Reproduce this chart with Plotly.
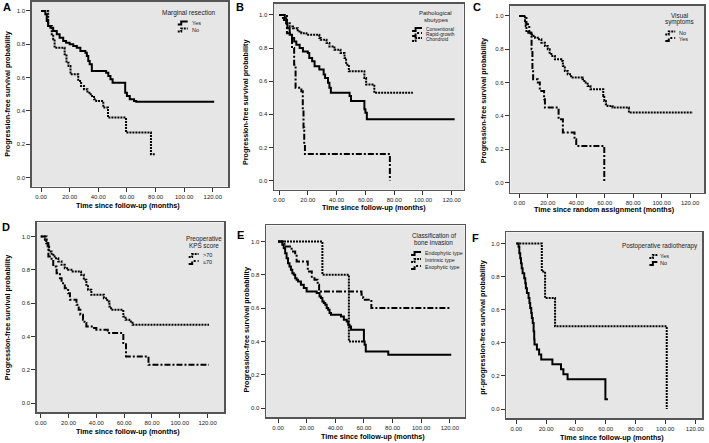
import plotly.graph_objects as go

# ---------------- DATA ----------------
x_ticks = [0, 20, 40, 60, 80, 100, 120]
x_tick_labels = ["0.00", "20.00", "40.00", "60.00", "80.00", "100.00", "120.00"]
y_ticks = [0.0, 0.2, 0.4, 0.6, 0.8, 1.0]
y_tick_labels = ["0.0", "0.2", "0.4", "0.6", "0.8", "1.0"]

# A: Marginal resection
A_yes_t = [0, 3, 4, 5, 6.5, 8.5, 11, 13, 15.5, 17.5, 20, 22.5, 25, 27.5, 31, 32, 33, 34, 35.5, 45.5,
           47, 48.5, 50, 58.8, 60, 62, 65, 66.5, 121]
A_yes_s = [1.0, 0.98, 0.94, 0.91, 0.90, 0.88, 0.86, 0.84, 0.82, 0.81, 0.80, 0.79, 0.78, 0.76, 0.75, 0.73,
           0.70, 0.68, 0.64, 0.63, 0.61, 0.59, 0.57, 0.51, 0.49, 0.47, 0.46, 0.455, 0.455]
A_no_t = [0, 5, 7.5, 8.5, 9.5, 16.5, 17.8, 19.2, 20.6, 26, 28, 30, 32.4, 34.7, 37, 38.6, 43.5, 46.8,
          59.4, 76.8, 79.7]
A_no_s = [1.0, 0.91, 0.86, 0.83, 0.78, 0.74, 0.69, 0.67, 0.62, 0.58, 0.55, 0.53, 0.51, 0.49, 0.47, 0.46,
          0.42, 0.36, 0.27, 0.14, 0.14]

# B: Pathological subtypes
B_conv_t = [0, 4, 5, 5.8, 7.4, 9, 10.5, 12, 14.3, 16.6, 20, 21, 23, 24.7, 28, 31, 32, 34, 35, 36,
            49, 50, 59.3, 60, 61, 122]
B_conv_s = [1.0, 0.98, 0.95, 0.92, 0.88, 0.86, 0.84, 0.82, 0.80, 0.78, 0.77, 0.74, 0.72, 0.69, 0.67,
            0.64, 0.62, 0.59, 0.56, 0.53, 0.51, 0.48, 0.43, 0.41, 0.37, 0.37]
B_rapid_t = [0, 5.5, 9, 10.5, 11.5, 15.5, 16.5, 17, 17.5, 18, 77]
B_rapid_s = [1.0, 0.89, 0.80, 0.70, 0.56, 0.54, 0.43, 0.32, 0.22, 0.16, 0.0]
B_chon_t = [0, 2.8, 5, 7.4, 9.7, 13, 15.5, 19, 28, 29, 33, 35, 38.5, 42.7, 45.5, 46.6, 48.5, 59.3,
            60.5, 66.2, 93]
B_chon_s = [1.0, 0.97, 0.95, 0.93, 0.92, 0.90, 0.89, 0.88, 0.86, 0.85, 0.83, 0.81, 0.79, 0.77, 0.74,
            0.70, 0.66, 0.62, 0.58, 0.53, 0.53]

# C: Visual symptoms
C_no_t = [0, 4, 4.5, 5, 6.3, 8.6, 10, 11, 13, 15.5, 18, 20, 21.3, 22.5, 25, 29.5, 30.6, 32, 34, 36.4,
          44.5, 45.7, 48, 50, 59, 59.7, 60.8, 62, 65.5, 77, 122]
C_no_s = [1.0, 0.97, 0.94, 0.91, 0.90, 0.89, 0.88, 0.87, 0.86, 0.84, 0.82, 0.80, 0.78, 0.76, 0.74, 0.73,
          0.70, 0.67, 0.65, 0.63, 0.62, 0.60, 0.58, 0.56, 0.52, 0.49, 0.47, 0.46, 0.45, 0.42, 0.42]
C_yes_t = [0, 5, 7, 8, 8.6, 9.2, 9.7, 13, 14.4, 17.4, 18, 27.6, 30.6, 38.8, 40, 59.7]
C_yes_s = [1.0, 0.95, 0.90, 0.88, 0.80, 0.68, 0.62, 0.60, 0.55, 0.50, 0.45, 0.38, 0.30, 0.26, 0.22, 0.0]

# D: Preoperative KPS score
D_hi_t = [0, 3, 4, 5, 6, 7.8, 10, 12.6, 15, 17.3, 19.7, 23, 29, 31, 32.8, 34, 36.4, 45.4, 47.8, 49.4,
          50.6, 59.4, 61, 63.7, 66, 121]
D_hi_s = [1.0, 0.98, 0.96, 0.94, 0.91, 0.89, 0.87, 0.85, 0.83, 0.81, 0.80, 0.79, 0.77, 0.74, 0.71,
          0.68, 0.65, 0.63, 0.61, 0.58, 0.56, 0.52, 0.50, 0.49, 0.47, 0.47]
D_lo_t = [0, 4.3, 5.5, 7.8, 9, 11.4, 13.8, 15, 17.3, 19.7, 21, 25.7, 27.3, 28.5, 30.4, 31.5, 32.8,
          37.5, 40, 48.2, 59.4, 61.3, 77.5, 121]
D_lo_s = [1.0, 0.96, 0.88, 0.86, 0.82, 0.78, 0.75, 0.72, 0.69, 0.66, 0.62, 0.59, 0.56, 0.53, 0.50,
          0.48, 0.46, 0.45, 0.44, 0.42, 0.36, 0.28, 0.23, 0.23]

# E: Classification of bone invasion
E_endo_t = [0, 3, 4, 5, 6, 7, 8, 9, 10, 11, 12, 13, 14, 16, 18, 20, 27, 29, 30, 31, 32, 33, 34, 35,
            36, 37, 44, 46, 48, 49, 50, 51, 60, 60.5, 61.3, 77, 121]
E_endo_s = [1.0, 0.98, 0.96, 0.93, 0.90, 0.87, 0.85, 0.83, 0.81, 0.80, 0.78, 0.77, 0.76, 0.74, 0.72,
            0.70, 0.69, 0.67, 0.66, 0.64, 0.63, 0.62, 0.60, 0.59, 0.57, 0.56, 0.55, 0.53, 0.52, 0.50,
            0.49, 0.47, 0.40, 0.38, 0.34, 0.32, 0.32]
E_intr_t = [0, 31, 49.5, 60]
E_intr_s = [1.0, 0.80, 0.40, 0.40]
E_exo_t = [0, 4.5, 9.5, 12, 13, 20.8, 23.6, 25.5, 27.7, 28.7, 58.3, 59.5, 60.6, 65.2, 121]
E_exo_s = [1.0, 0.97, 0.94, 0.92, 0.88, 0.82, 0.78, 0.77, 0.74, 0.70, 0.68, 0.66, 0.65, 0.60, 0.60]

# F: Postoperative radiotherapy
F_no_t = [0, 1.5, 2, 2.6, 3.1, 3.6, 4.2, 5.3, 6, 6.4, 7.1, 8.2, 8.8, 9.3, 10, 10.4, 11, 11.6, 12,
          12.2, 13.8, 15.3, 16.7, 24.2, 30, 31.6, 34.4, 59.8, 61.5]
F_no_s = [1.0, 0.98, 0.94, 0.91, 0.88, 0.85, 0.82, 0.79, 0.76, 0.73, 0.70, 0.67, 0.64, 0.61, 0.58,
          0.55, 0.52, 0.47, 0.42, 0.39, 0.36, 0.33, 0.30, 0.27, 0.24, 0.21, 0.18, 0.06, 0.06]
F_yes_t = [0, 17.1, 19.3, 26, 101]
F_yes_s = [1.0, 0.83, 0.67, 0.50, 0.0]

# ---------------- STYLE / LAYOUT ----------------
W, H = 709, 443
SOLID = "solid"
DOT = "2px,1px"
DASHDOT = "6px,2px,2px,2px"
LINE_W = 2.0
SANS = "Liberation Sans, Arial, sans-serif"
TITLE_SIZE = 7.2


def px(x):
    return x / W


def py(y):
    return 1 - y / H


panels = [
    dict(letter="A", box=(30, 1, 228, 186), xr=(-6.45, 130.9), yr=(-0.054, 1.054), lpos=(5, 6),
         xt="Time since follow-up (months)", xtp=(127, 205),
         yt="Progression-free survival probability", ytp=(6, 93),
         curves=[("Yes", A_yes_t, A_yes_s, SOLID), ("No", A_no_t, A_no_s, DOT)],
         leg=dict(title=["Marginal resection"], cx=188, ty=[12], iy=[22, 29], sw=(177, 187), tx=189,
                  tfs=6.5, ifs=5.5)),
    dict(letter="B", box=(274, 3, 465, 189), xr=(-3.45, 128.3), yr=(-0.054, 1.066), lpos=(240, 6),
         xt="Time since follow-up (months)", xtp=(375, 207),
         yt="Progression-free survival probability", ytp=(246, 102),
         curves=[("Conventional", B_conv_t, B_conv_s, SOLID),
                 ("Rapid-growth", B_rapid_t, B_rapid_s, DASHDOT),
                 ("Chondroid", B_chon_t, B_chon_s, DOT)],
         leg=dict(title=["Pathological", "sbutypes"], cx=437, ty=[12.5, 19.5], iy=[28.5, 33.5, 38.5],
                  sw=(413, 423), tx=425, tfs=6, ifs=4.8)),
    dict(letter="C", box=(512, 5, 707, 192), xr=(-6.28, 129.8), yr=(-0.060, 1.060), lpos=(478, 6),
         xt="Time since random assignment (months)", xtp=(607, 209),
         yt="Progression-free survival probability", ytp=(485, 100),
         curves=[("No", C_no_t, C_no_s, DOT), ("Yes", C_yes_t, C_yes_s, DASHDOT)],
         leg=dict(title=["Visual", "symptoms"], cx=682, ty=[15, 21.5], iy=[32, 38.5], sw=(668, 678), tx=680,
                  tfs=6.3, ifs=5.5)),
    dict(letter="D", box=(35, 222, 224, 412), xr=(-2.86, 132.1), yr=(-0.054, 1.084), lpos=(4, 227),
         xt="Time since follow-up (months)", xtp=(127, 431),
         yt="Progression-free survival probability", ytp=(5, 317),
         curves=[(">70", D_hi_t, D_hi_s, DOT), ("\u226470", D_lo_t, D_lo_s, DASHDOT)],
         leg=dict(title=["Preoperative", "KPS score"], cx=203, ty=[238.5, 245.5], iy=[255, 262],
                  sw=(188, 198), tx=200, tfs=6.3, ifs=5.5)),
    dict(letter="E", box=(266, 225, 466, 417), xr=(-8.3, 130.4), yr=(-0.054, 1.096), lpos=(240, 235),
         xt="Time since follow-up (months)", xtp=(374, 436),
         yt="Progression-free survival probability", ytp=(246, 330),
         curves=[("Endophytic type", E_endo_t, E_endo_s, SOLID),
                 ("Intrinsic type", E_intr_t, E_intr_s, DOT),
                 ("Exophytic type", E_exo_t, E_exo_s, DASHDOT)],
         leg=dict(title=["Classification of", "bone invasion"], cx=435, ty=[235.5, 242.5],
                  iy=[253, 260, 267], sw=(412, 422), tx=424, tfs=6.3, ifs=5.3)),
    dict(letter="F", box=(508, 232, 705, 418), xr=(-6.67, 124.7), yr=(-0.054, 1.066), lpos=(477, 238),
         xt="Time since follow-up (months)", xtp=(614, 437),
         yt="pr-progression-free survival probability", ytp=(484, 327),
         curves=[("Yes", F_yes_t, F_yes_s, DOT), ("No", F_no_t, F_no_s, SOLID)],
         leg=dict(title=["Postoperative radiotherapy"], cx=663, ty=[246], iy=[256, 263],
                  sw=(652, 660), tx=661, tfs=6.3, ifs=5.5)),
]

fig = go.Figure()
layout = dict(width=W, height=H, margin=dict(l=0, r=0, t=0, b=0), autosize=False,
              paper_bgcolor="white", plot_bgcolor="#e6e6e6", showlegend=False)
annotations = []
shapes = []

for i, p in enumerate(panels):
    n = i + 1
    xa = "xaxis" if n == 1 else f"xaxis{n}"
    ya = "yaxis" if n == 1 else f"yaxis{n}"
    xr_ = "x" if n == 1 else f"x{n}"
    yr_ = "y" if n == 1 else f"y{n}"
    l, t, r, b = p["box"]
    common = dict(showline=True, mirror=True, linecolor="#555555", linewidth=1.5,
                  ticks="outside", ticklen=4, tickwidth=1, tickcolor="#333333",
                  tickfont=dict(size=6, family=SANS, color="#222222"),
                  showgrid=False, zeroline=False, fixedrange=True)
    layout[xa] = dict(domain=[px(l), px(r)], range=list(p["xr"]), anchor=yr_,
                      tickvals=x_ticks, ticktext=x_tick_labels, **common)
    layout[ya] = dict(domain=[py(b), py(t)], range=list(p["yr"]), anchor=xr_,
                      tickvals=y_ticks, ticktext=y_tick_labels, **common)

    for name, tt, ss, dash in p["curves"]:
        fig.add_trace(go.Scatter(x=tt, y=ss, mode="lines", name=name,
                                 line=dict(shape="hv", color="black", width=LINE_W, dash=dash),
                                 xaxis=xr_, yaxis=yr_, hoverinfo="skip", cliponaxis=True))

    # panel letter
    annotations.append(dict(text=f"<b>{p['letter']}</b>", x=px(p["lpos"][0]), y=py(p["lpos"][1]),
                            xref="paper", yref="paper", showarrow=False, xanchor="center",
                            yanchor="middle", font=dict(size=11, family=SANS, color="black")))
    # axis titles
    annotations.append(dict(text=f"<b>{p['xt']}</b>", x=px(p["xtp"][0]), y=py(p["xtp"][1]),
                            xref="paper", yref="paper", showarrow=False, xanchor="center",
                            yanchor="middle", font=dict(size=TITLE_SIZE, family=SANS, color="black")))
    annotations.append(dict(text=f"<b>{p['yt']}</b>", x=px(p["ytp"][0]), y=py(p["ytp"][1]),
                            xref="paper", yref="paper", showarrow=False, xanchor="center",
                            yanchor="middle", textangle=-90,
                            font=dict(size=TITLE_SIZE, family=SANS, color="black")))
    # legend (drawn inside the plot, as in the reference)
    lg = p["leg"]
    for line, yy in zip(lg["title"], lg["ty"]):
        annotations.append(dict(text=line, x=px(lg["cx"]), y=py(yy), xref="paper", yref="paper",
                                showarrow=False, xanchor="center", yanchor="middle",
                                font=dict(size=lg["tfs"], family=SANS, color="#222222")))
    x0, x1 = lg["sw"]
    for (name, _, _, dash), yy in zip(p["curves"], lg["iy"]):
        xm = x0 + 3.5
        path = (f"M {px(x0)},{py(yy + 1.5)} L {px(xm)},{py(yy + 1.5)} "
                f"L {px(xm)},{py(yy - 1.5)} L {px(x1)},{py(yy - 1.5)}")
        shapes.append(dict(type="path", path=path, xref="paper", yref="paper",
                           line=dict(color="black", width=2, dash=dash)))
        annotations.append(dict(text=name, x=px(lg["tx"]), y=py(yy), xref="paper", yref="paper",
                                showarrow=False, xanchor="left", yanchor="middle",
                                font=dict(size=lg["ifs"], family=SANS, color="#222222")))

layout["annotations"] = annotations
layout["shapes"] = shapes
fig.update_layout(**layout)
fig.write_html("out.html", config={"displayModeBar": False, "staticPlot": True},
               post_script="document.body.style.margin='0px';")
